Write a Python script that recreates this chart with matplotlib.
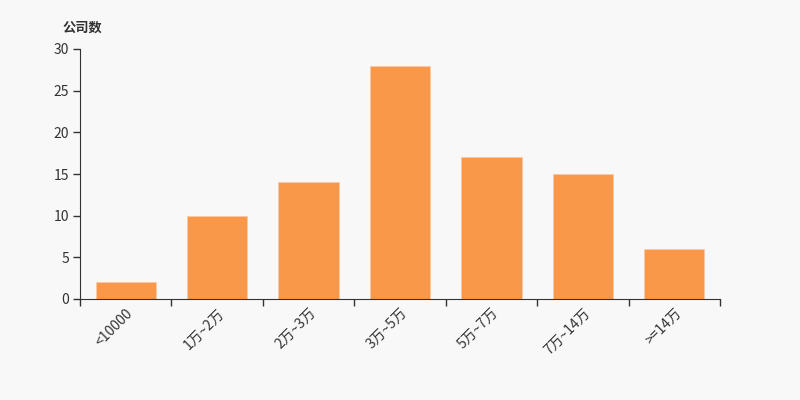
import matplotlib
matplotlib.use("Agg")
import matplotlib.pyplot as plt
import numpy as np

plt.rcParams['font.family'] = ['Noto Sans CJK SC', 'DejaVu Sans']

categories = ["<10000", "1万~2万", "2万~3万", "3万~5万", "5万~7万", "7万~14万", ">=14万"]
counts = [2, 10, 14, 28, 17, 15, 6]
yticks = [0, 5, 10, 15, 20, 25, 30]

bg = "#f8f8f8"
fig = plt.figure(figsize=(8, 4), dpi=100, facecolor=bg)
ax = fig.add_axes([0.1, 0.2525, 0.8, 0.625], facecolor=bg)

x = np.arange(len(categories))
ax.bar(x, counts, width=0.66, color="#f99848", edgecolor="#fbc9a3", linewidth=0.6, zorder=2)

ax.set_xlim(-0.5, len(categories) - 0.5)
ax.set_ylim(0, 30)
ax.set_yticks(yticks)
ax.set_yticklabels([str(v) for v in yticks], fontsize=10, color="#333333")

# category labels at centers, tick marks at boundaries
ax.set_xticks(x)
ax.set_xticklabels(categories, rotation=45, ha="right", rotation_mode="anchor",
                   fontsize=10, color="#333333")
ax.tick_params(axis="x", length=0, pad=5)
ax.set_xticks(np.arange(-0.5, len(categories)), minor=True)
ax.tick_params(axis="x", which="minor", length=5, color="#333333", width=1)
ax.tick_params(axis="y", length=5, color="#333333", width=1, pad=3)

for s in ["top", "right"]:
    ax.spines[s].set_visible(False)
ax.spines["left"].set_color("#333333")
ax.spines["bottom"].set_color("#333333")

fig.text(0.078, 0.932, "公司数", fontsize=9.5, fontweight="bold", color="#333333",
         ha="left", va="center")

fig.savefig("out.png", dpi=100, facecolor=bg)
